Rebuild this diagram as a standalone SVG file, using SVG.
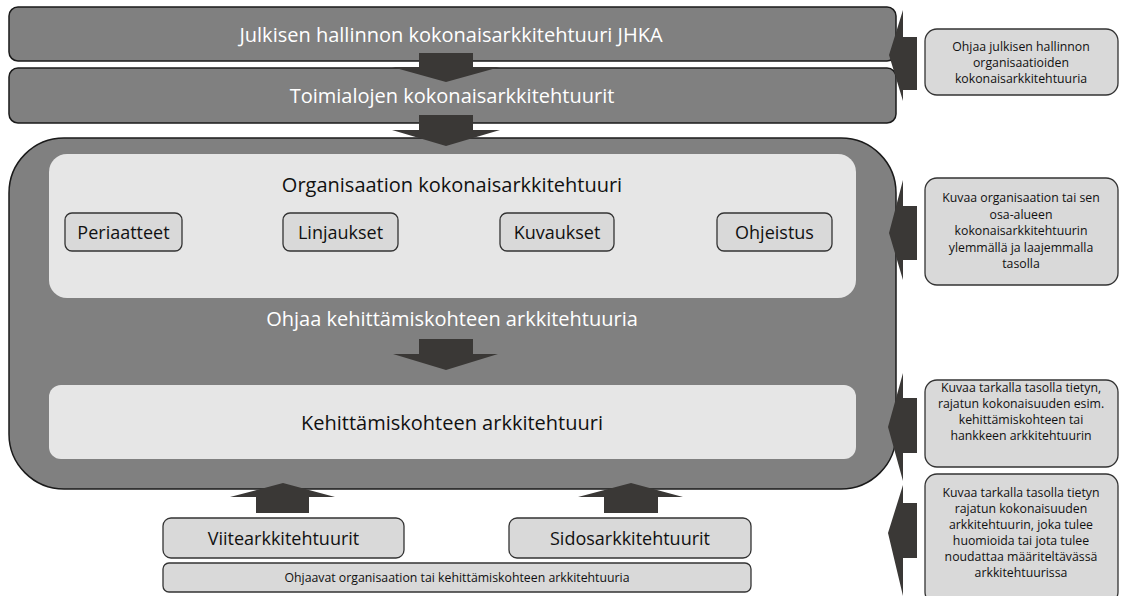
<svg xmlns="http://www.w3.org/2000/svg" width="1126" height="596" viewBox="0 0 1126 596">
  <defs>
    <style>
      .band { fill: #808080; stroke: #1a1a1a; stroke-width: 1.5; }
      .panel { fill: #e6e6e6; }
      .chip { fill: #d9d9d9; stroke: #333333; stroke-width: 1.3; }
      .note { fill: #d9d9d9; stroke: #333333; stroke-width: 1.3; }
      .arrow { fill: #3a3836; }
      text { font-family: "Open Sans", "Noto Sans", "Liberation Sans", sans-serif; text-anchor: middle; }
      .white { fill: #ffffff; font-size: 20px; }
      .dark { fill: #111111; }
      .t20 { font-size: 20px; }
      .t18 { font-size: 18px; }
      .t12 { font-size: 12.3px; }
    </style>
  </defs>
  <rect width="1126" height="596" fill="#ffffff"/>

  <!-- top bands -->
  <g id="jhka">
    <rect class="band" x="9" y="7" width="887" height="54" rx="9"/>
    <text class="white" x="451" y="42" font-size="20.6">Julkisen hallinnon kokonaisarkkitehtuuri JHKA</text>
  </g>
  <g id="toimialat">
    <rect class="band" x="9" y="68" width="887" height="55" rx="9"/>
    <text class="white" x="452" y="103">Toimialojen kokonaisarkkitehtuurit</text>
  </g>

  <!-- organisation container -->
  <g id="organisaatio">
    <rect class="band" x="9" y="138" width="887" height="351" rx="55"/>
    <rect class="panel" x="49" y="154" width="807" height="144" rx="18"/>
    <text class="dark t20" x="452" y="192">Organisaation kokonaisarkkitehtuuri</text>
    <text class="white" x="452" y="326">Ohjaa kehittämiskohteen arkkitehtuuria</text>
  </g>
  <g id="periaatteet">
    <rect class="chip" x="65" y="213" width="117" height="38" rx="7"/>
    <text class="dark t18" x="123.5" y="239">Periaatteet</text>
  </g>
  <g id="linjaukset">
    <rect class="chip" x="283" y="213" width="115" height="38" rx="7"/>
    <text class="dark t18" x="340.5" y="239">Linjaukset</text>
  </g>
  <g id="kuvaukset">
    <rect class="chip" x="500" y="213" width="114" height="38" rx="7"/>
    <text class="dark t18" x="557" y="239">Kuvaukset</text>
  </g>
  <g id="ohjeistus">
    <rect class="chip" x="717" y="213" width="115" height="38" rx="7"/>
    <text class="dark t18" x="774.5" y="239">Ohjeistus</text>
  </g>
  <g id="kehittamiskohde">
    <rect class="panel" x="49" y="385" width="807" height="74" rx="12"/>
    <text class="dark t20" x="452" y="430" font-size="20.3">Kehittämiskohteen arkkitehtuuri</text>
  </g>

  <!-- bottom inputs -->
  <g id="viite">
    <rect class="chip" x="163" y="518" width="241" height="40" rx="8"/>
    <text class="dark t18" x="283.5" y="545">Viitearkkitehtuurit</text>
  </g>
  <g id="sidos">
    <rect class="chip" x="509" y="518" width="242" height="40" rx="8"/>
    <text class="dark t18" x="630" y="545">Sidosarkkitehtuurit</text>
  </g>
  <g id="ohjaavat">
    <rect class="chip" x="163" y="563" width="588" height="29" rx="6"/>
    <text class="dark" x="457" y="582" font-size="12.3">Ohjaavat organisaation tai kehittämiskohteen arkkitehtuuria</text>
  </g>

  <!-- side notes -->
  <g id="note-jhka">
    <rect class="note" x="925" y="29" width="193" height="66" rx="12"/>
    <text class="dark t12"><tspan x="1021" y="51">Ohjaa julkisen hallinnon</tspan><tspan x="1021" y="67">organisaatioiden</tspan><tspan x="1021" y="83">kokonaisarkkitehtuuria</tspan></text>
  </g>
  <g id="note-org">
    <rect class="note" x="925" y="178" width="193" height="107" rx="12"/>
    <text class="dark t12"><tspan x="1021" y="202">Kuvaa organisaation tai sen</tspan><tspan x="1021" y="218.5">osa-alueen</tspan><tspan x="1021" y="235">kokonaisarkkitehtuurin</tspan><tspan x="1021" y="251.5">ylemmällä ja laajemmalla</tspan><tspan x="1021" y="268">tasolla</tspan></text>
  </g>
  <g id="note-kohde">
    <rect class="note" x="925" y="380" width="193" height="87" rx="12"/>
    <text class="dark t12"><tspan x="1021" y="392">Kuvaa tarkalla tasolla tietyn,</tspan><tspan x="1021" y="408">rajatun kokonaisuuden esim.</tspan><tspan x="1021" y="424">kehittämiskohteen tai</tspan><tspan x="1021" y="440">hankkeen arkkitehtuurin</tspan></text>
  </g>
  <g id="note-viite">
    <rect class="note" x="925" y="474" width="193" height="130" rx="12"/>
    <text class="dark t12"><tspan x="1021" y="497">Kuvaa tarkalla tasolla tietyn</tspan><tspan x="1021" y="513">rajatun kokonaisuuden</tspan><tspan x="1021" y="529">arkkitehtuurin, joka tulee</tspan><tspan x="1021" y="545">huomioida tai jota tulee</tspan><tspan x="1021" y="561">noudattaa määriteltävässä</tspan><tspan x="1021" y="577">arkkitehtuurissa</tspan></text>
  </g>

  <!-- block arrows -->
  <g id="connectors">
    <polygon class="arrow" points="419,53 473,53 473,67 500,67 446,82 392,67 419,67"/>
    <polygon class="arrow" points="419,115 473,115 473,130 500,130 446,146 392,130 419,130"/>
    <polygon class="arrow" points="419,339 473,339 473,354 498,354 446,370 393,354 419,354"/>
    <polygon class="arrow" points="256,513 309,513 309,497 335,497 283,483 230,497 256,497"/>
    <polygon class="arrow" points="604,513 658,513 658,497 683,497 631,483 578,497 604,497"/>
    <polygon class="arrow" points="917,37 917,90 903,90 903,101 889,55 903,10 903,37"/>
    <polygon class="arrow" points="917,206 917,260 903,260 903,280 889,233 903,180 903,206"/>
    <polygon class="arrow" points="917,398 917,453 903,453 903,481 888,427 903,373 903,398"/>
    <polygon class="arrow" points="917,503 917,558 903,558 903,596 888,533 903,485 903,503"/>
  </g>
</svg>
